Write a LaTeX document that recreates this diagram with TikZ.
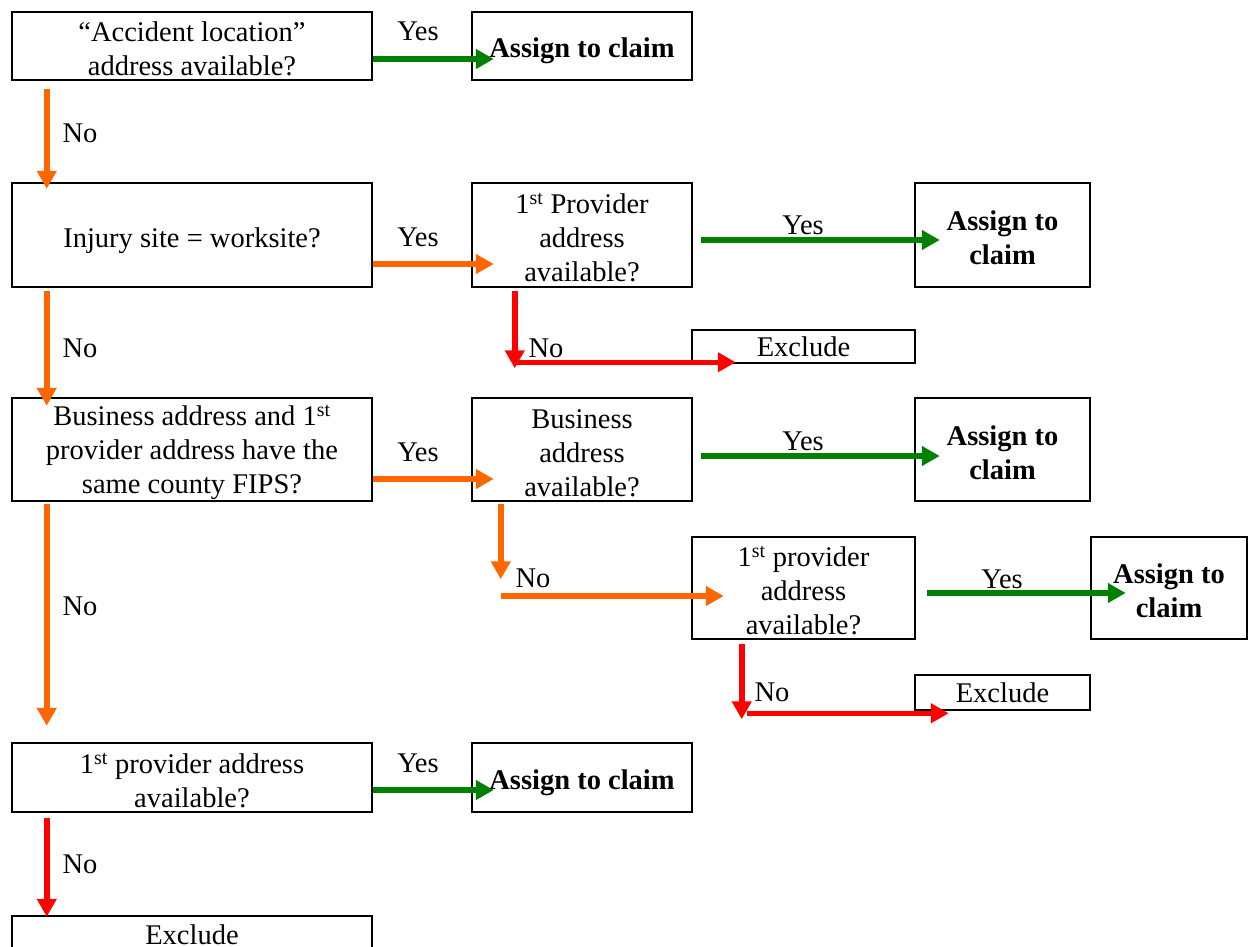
\documentclass[tikz,border=0pt]{standalone}
\usepackage{fontspec}
\setmainfont{Liberation Serif}
\usetikzlibrary{arrows.meta}
\definecolor{orng}{HTML}{FF6600}
\definecolor{grn}{HTML}{008000}
\definecolor{rd}{HTML}{FF0000}
\newcommand\myStrutA{\rule{0pt}{30pt}}
\newcommand\myStrutB{\rule{0pt}{26pt}}
\begin{document}
\begin{tikzpicture}[x=1pt,y=-1pt,
  box/.style={draw=black, line width=2.5pt, inner sep=0pt, align=center, font=\fontsize{28.5}{34}\selectfont},
  boldbox/.style={box, font=\fontsize{28.5}{34}\selectfont\bfseries},
  lbl/.style={inner sep=0pt, font=\fontsize{28.5}{34}\selectfont},
  arr/.style={line width=5.5pt, -{Triangle[length=18pt,width=19pt]}}]
\useasboundingbox (0,0) rectangle (1249,946);
% row 1
\node[box, minimum width=360pt, minimum height=68pt] (a1) at (192,46) {\myStrutB“Accident location”\\address available?};
\node[boldbox, minimum width=220pt, minimum height=68pt] (b1) at (582,46) {\myStrutA Assign to claim};
% row 2
\node[box, minimum width=360pt, minimum height=104pt] (a2) at (192,235) {\rule{0pt}{31pt}Injury site = worksite?};
\node[box, minimum width=220pt, minimum height=104pt] (b2) at (582,235) {\myStrutB 1\textsuperscript{st} Provider\\address\\available?};
\node[boldbox, minimum width=175pt, minimum height=104pt] (c2) at (1002.5,235) {\myStrutB Assign to\\claim};
\node[box, minimum width=223pt, minimum height=33pt] (e2) at (803.5,346.5) {Exclude};
% row 3
\node[box, minimum width=360pt, minimum height=103pt] (a3) at (192,449.5) {\myStrutB Business address and 1\textsuperscript{st}\\provider address have the\\same county FIPS?};
\node[box, minimum width=220pt, minimum height=103pt] (b3) at (582,449.5) {\myStrutB Business\\address\\available?};
\node[boldbox, minimum width=175pt, minimum height=103pt] (c3) at (1002.5,449.5) {\myStrutB Assign to\\claim};
\node[box, minimum width=223pt, minimum height=102pt] (d3) at (803.5,588) {\myStrutB 1\textsuperscript{st} provider\\address\\available?};
\node[boldbox, minimum width=156pt, minimum height=102pt] (e3) at (1169,588) {\myStrutB Assign to\\claim};
\node[box, minimum width=175pt, minimum height=35pt] (f3) at (1002.5,692.5) {Exclude};
% row 4
\node[box, minimum width=360pt, minimum height=69pt] (a4) at (192,777.5) {\myStrutB 1\textsuperscript{st} provider address\\available?};
\node[boldbox, minimum width=220pt, minimum height=69pt] (b4) at (582,777.5) {\myStrutA Assign to claim};
\node[box, minimum width=360pt, minimum height=38pt] (a5) at (192,935) {Exclude};
% connectors
\draw[arr, grn] ([yshift=-13pt]a1.east) -- ([xshift=23pt,yshift=-13pt]b1.west);
\draw[arr, orng] ([xshift=36pt,yshift=-8pt]a1.south west) -- ([xshift=36pt,yshift=-7pt]a2.north west);
\draw[arr, orng] ([yshift=-29pt]a2.east) -- ([xshift=23pt,yshift=-29pt]b2.west);
\draw[arr, grn] ([xshift=8pt,yshift=-5pt]b2.east) -- ([xshift=26pt,yshift=-5pt]c2.west);
\draw[arr, rd] ([xshift=44pt,yshift=-3pt]b2.south west) -- ([xshift=44pt,yshift=-80pt]b2.south west);
\draw[arr, rd] ([xshift=-176pt,yshift=2pt]e2.south west) -- ([xshift=45pt,yshift=2pt]e2.south west);
\draw[arr, orng] ([xshift=36pt,yshift=-3pt]a2.south west) -- ([xshift=36pt,yshift=-9pt]a3.north west);
\draw[arr, orng] ([yshift=-29.5pt]a3.east) -- ([xshift=23pt,yshift=-29.5pt]b3.west);
\draw[arr, grn] ([xshift=8pt,yshift=-6.5pt]b3.east) -- ([xshift=26pt,yshift=-6.5pt]c3.west);
\draw[arr, orng] ([xshift=30pt,yshift=-2pt]b3.south west) -- ([xshift=30pt,yshift=-77pt]b3.south west);
\draw[arr, orng] ([xshift=-190pt,yshift=-8pt]d3.west) -- ([xshift=33pt,yshift=-8pt]d3.west);
\draw[arr, grn] ([xshift=11pt,yshift=-5pt]d3.east) -- ([xshift=36pt,yshift=-5pt]e3.west);
\draw[arr, rd] ([xshift=51pt,yshift=-4pt]d3.south west) -- ([xshift=51pt,yshift=-79pt]d3.south west);
\draw[arr, rd] ([xshift=-167pt,yshift=-2pt]f3.south west) -- ([xshift=35pt,yshift=-2pt]f3.south west);
\draw[arr, orng] ([xshift=36pt,yshift=-2pt]a3.south west) -- ([xshift=36pt,yshift=16pt]a4.north west);
\draw[arr, grn] ([yshift=-12.5pt]a4.east) -- ([xshift=23pt,yshift=-12.5pt]b4.west);
\draw[arr, rd] ([xshift=36pt,yshift=-5pt]a4.south west) -- ([xshift=36pt,yshift=-2pt]a5.north west);
% labels
\node[lbl] (l1) at (418,31) {Yes};
\node[lbl] (l2) at (80,133) {No};
\node[lbl] (l3) at (418,237) {Yes};
\node[lbl] (l4) at (803,225) {Yes};
\node[lbl] (l5) at (546,348) {No};
\node[lbl] (l6) at (80,348) {No};
\node[lbl] (l7) at (418,452) {Yes};
\node[lbl] (l8) at (803,441) {Yes};
\node[lbl] (l9) at (533,578) {No};
\node[lbl] (l10) at (80,606) {No};
\node[lbl] (l11) at (1002,579) {Yes};
\node[lbl] (l12) at (772,692) {No};
\node[lbl] (l13) at (418,763) {Yes};
\node[lbl] (l14) at (80,864) {No};
\end{tikzpicture}
\end{document}
